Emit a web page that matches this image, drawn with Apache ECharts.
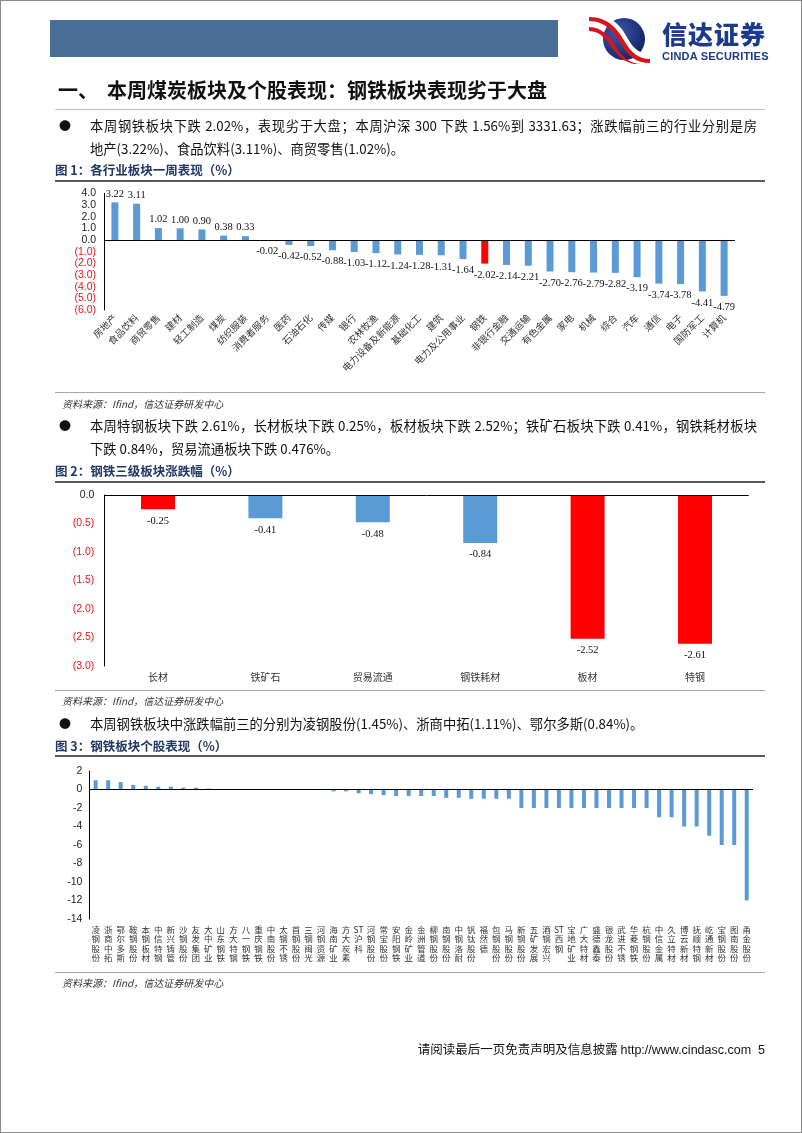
<!DOCTYPE html>
<html><head><meta charset="utf-8">
<script src="https://cdn.jsdelivr.net/npm/echarts@6/dist/echarts.min.js"></script>
<style>
html,body{margin:0;padding:0;background:#fff;}
#page{position:relative;width:802px;height:1133px;overflow:hidden;background:#fff;font-family:"Noto Sans CJK SC","Noto Sans",sans-serif;color:#111;}
#chart{position:absolute;left:0;top:0;width:802px;height:1133px;}
.t{position:absolute;white-space:nowrap;z-index:2;}
.hl{position:absolute;z-index:2;}
.p{font-size:13.3px;line-height:16px;color:#111;}
.fig{font-size:12.5px;font-weight:bold;color:#1F3864;}
.src{font-size:10px;font-style:italic;color:#333;}
</style></head><body>
<div id="page">
<div id="chart"></div>
<div class="hl" style="left:0;top:0;width:800px;height:1131px;border:1px solid #8a8a8a;z-index:3;pointer-events:none"></div>
<div class="hl" style="left:50px;top:20px;width:508px;height:37px;background:#4A6E96"></div>
<svg class="hl" style="left:588px;top:14px" width="66" height="50" viewBox="0 0 66 50">
<defs><radialGradient id="g" cx="0.35" cy="0.35" r="0.75"><stop offset="0" stop-color="#3a58b0"/><stop offset="1" stop-color="#101f60"/></radialGradient></defs>
<circle cx="36" cy="25" r="21" fill="url(#g)"/>
<path d="M2 4 C18 4 28 16 35 28 C42 40 50 46 62 46 L62 40 C52 40 45 34 40 25 C33 12 24 0 2 0 Z" fill="#fff"/>
<path d="M1 7 C17 7 26 18 33 30 C40 42 48 49 62 49 L62 45 C50 45 43 38 37 28 C30 16 21 3 1 3 Z" fill="#D8131C"/>
<path d="M1 13 C13 13 22 22 28 33 C34 43 42 50 54 50 L46 50 C36 48 30 42 25 35 C19 26 12 17 1 17 Z" fill="#D8131C"/>
</svg>
<div class="t" style="left:662px;top:17px;font-size:25px;line-height:32px;font-weight:900;color:#1B3A8C;letter-spacing:1px">信达证券</div>
<div class="t" style="left:662px;top:50px;font-family:'Liberation Sans',Arial;font-size:11px;line-height:12px;font-weight:bold;color:#1B3A8C;letter-spacing:0.2px">CINDA SECURITIES</div>
<div class="t" style="left:58px;top:75px;font-size:20px;font-weight:bold;color:#111">一、&nbsp;&nbsp;本周煤炭板块及个股表现：钢铁板块表现劣于大盘</div>
<div class="hl" style="left:55px;top:109px;width:710px;height:1px;background:#BFBFBF"></div>

<div class="t p" style="left:59px;top:118px;font-size:12px">●</div>
<div class="t p" style="left:90px;top:118px;width:667px;text-align:justify;text-align-last:justify">本周钢铁板块下跌 2.02%，表现劣于大盘；本周沪深 300 下跌 1.56%到 3331.63；涨跌幅前三的行业分别是房</div>
<div class="t p" style="left:90px;top:141px">地产(3.22%)、食品饮料(3.11%)、商贸零售(1.02%)。</div>
<div class="t fig" style="left:55px;top:160px">图 1：各行业板块一周表现（%）</div>
<div class="hl" style="left:55px;top:180px;width:710px;height:1.5px;background:#595959"></div>
<div class="hl" style="left:55px;top:392px;width:710px;height:1px;background:#A6A6A6"></div>
<div class="t src" style="left:62px;top:396px">资料来源：Ifind，信达证券研发中心</div>

<div class="t p" style="left:59px;top:418px;font-size:12px">●</div>
<div class="t p" style="left:90px;top:418px;width:667px;text-align:justify;text-align-last:justify">本周特钢板块下跌 2.61%，长材板块下跌 0.25%，板材板块下跌 2.52%；铁矿石板块下跌 0.41%，钢铁耗材板块</div>
<div class="t p" style="left:90px;top:441px">下跌 0.84%，贸易流通板块下跌 0.476%。</div>
<div class="t fig" style="left:55px;top:461px">图 2：钢铁三级板块涨跌幅（%）</div>
<div class="hl" style="left:55px;top:481px;width:710px;height:1.5px;background:#595959"></div>
<div class="hl" style="left:55px;top:690px;width:710px;height:1px;background:#A6A6A6"></div>
<div class="t src" style="left:62px;top:693px">资料来源：Ifind，信达证券研发中心</div>

<div class="t p" style="left:59px;top:716px;font-size:12px">●</div>
<div class="t p" style="left:90px;top:716px">本周钢铁板块中涨跌幅前三的分别为凌钢股份(1.45%)、浙商中拓(1.11%)、鄂尔多斯(0.84%)。</div>
<div class="t fig" style="left:55px;top:736px">图 3：钢铁板块个股表现（%）</div>
<div class="hl" style="left:55px;top:755px;width:710px;height:1.5px;background:#595959"></div>
<div class="hl" style="left:55px;top:972px;width:710px;height:1px;background:#A6A6A6"></div>
<div class="t src" style="left:62px;top:975px">资料来源：Ifind，信达证券研发中心</div>

<div class="t" style="right:37px;top:1039px;font-size:12.5px;color:#111">请阅读最后一页免责声明及信息披露 <span style="font-family:'Liberation Sans',Arial">http://www.cindasc.com&nbsp;&nbsp;5</span></div>
</div>
<script>
// ---- Figure 1: industry weekly performance ----
const indCategories = ['房地产','食品饮料','商贸零售','建材','轻工制造','煤炭','纺织服装','消费者服务','医药','石油石化','传媒','银行','农林牧渔','电力设备及新能源','基础化工','建筑','电力及公用事业','钢铁','非银行金融','交通运输','有色金属','家电','机械','综合','汽车','通信','电子','国防军工','计算机'];
const indValues = [3.22,3.11,1.02,1.00,0.90,0.38,0.33,-0.02,-0.42,-0.52,-0.88,-1.03,-1.12,-1.24,-1.28,-1.31,-1.64,-2.02,-2.14,-2.21,-2.70,-2.76,-2.79,-2.82,-3.19,-3.74,-3.78,-4.41,-4.79];
const indHighlight = ['钢铁'];
const indTicks = {min:-6, max:4, interval:1};

// ---- Figure 2: steel sub-sector ----
const subCategories = ['长材','铁矿石','贸易流通','钢铁耗材','板材','特钢'];
const subValues = [-0.25,-0.41,-0.48,-0.84,-2.52,-2.61];
const subHighlight = ['长材','板材','特钢'];
const subTicks = {min:-3, max:0, interval:0.5};

// ---- Figure 3: individual stocks ----
const stockCategories = ['凌钢股份','浙商中拓','鄂尔多斯','鞍钢股份','本钢板材','中信特钢','新兴铸管','沙钢股份','友发集团','大中矿业','山东钢铁','方大特钢','八一钢铁','重庆钢铁','中南股份','太钢不锈','首钢股份','三钢闽光','河钢资源','海南矿业','方大炭素','ST沪科','河钢股份','常宝股份','安阳钢铁','金岭矿业','金洲管道','柳钢股份','南钢股份','中钢洛耐','钒钛股份','福然德','包钢股份','马钢股份','新钢股份','五矿发展','酒钢宏兴','ST西钢','宝地矿业','广大特材','盛德鑫泰','银龙股份','武进不锈','华菱钢铁','杭钢股份','中信金属','久立特材','博云新材','抚顺特钢','屹通新材','宝钢股份','图南股份','甬金股份'];
const stockValues = [1.0,1.0,0.8,0.5,0.4,0.3,0.3,0.2,0.2,0.1,0,0,0,0,0,0,0,0,0,-0.2,-0.2,-0.4,-0.5,-0.6,-0.7,-0.7,-0.7,-0.7,-0.9,-0.9,-1.0,-1.0,-1.0,-1.0,-2,-2,-2,-2,-2,-2,-2,-2,-2,-2,-2,-3,-3,-4,-4,-5,-6,-6,-12];
const stockTicks = {min:-14, max:2, interval:2};

const BLUE = '#5B9BD5', RED = '#FF0000';
const numFont = "'Liberation Sans', Arial, sans-serif";
const serif = "'Liberation Serif', 'Times New Roman', serif";
const cjk = "'Noto Sans CJK SC', sans-serif";

function parenFmt(v){
  if (v < 0) return '{r|(' + Math.abs(v).toFixed(1) + ')}';
  return '{b|' + v.toFixed(1) + '}';
}
const parenRich = {r:{color:'#E8141B',fontFamily:numFont,fontSize:10.5}, b:{color:'#222',fontFamily:numFont,fontSize:10.5}};
const zeroLine = {symbol:'none',silent:true,label:{show:false},lineStyle:{color:'#000',width:1,type:'solid'},data:[{yAxis:0}]};

const chart = echarts.init(document.getElementById('chart'), null, {renderer:'canvas'});
chart.setOption({
  animation:false,
  backgroundColor:'transparent',
  grid:[
    {left:104, width:631, top:193.3, height:116.7, containLabel:false},
    {left:104.3, width:644.4, top:495, height:171, containLabel:false},
    {left:89.4, width:663.6, top:771, height:148, containLabel:false}
  ],
  xAxis:[
    {gridIndex:0, type:'category', data:indCategories,
      axisLine:{show:false}, axisTick:{show:false},
      axisLabel:{rotate:45, fontSize:9.5, fontFamily:cjk, color:'#333', margin:6, interval:0}},
    {gridIndex:1, type:'category', data:subCategories,
      axisLine:{show:false}, axisTick:{show:false},
      axisLabel:{fontSize:10, fontFamily:cjk, color:'#333', margin:6, interval:0}},
    {gridIndex:2, type:'category', data:stockCategories,
      axisLine:{show:false}, axisTick:{show:false},
      axisLabel:{fontSize:8.5, lineHeight:9.4, fontFamily:cjk, color:'#333', margin:6, interval:0,
        formatter:function(s){ return s.match(/[A-Za-z]+|./g).join('\n'); }}}
  ],
  yAxis:[
    {gridIndex:0, type:'value', min:indTicks.min, max:indTicks.max, interval:indTicks.interval,
      splitLine:{show:false}, axisTick:{show:false},
      axisLine:{show:true, lineStyle:{color:'#000',width:1}},
      axisLabel:{formatter:parenFmt, rich:parenRich, margin:8}},
    {gridIndex:1, type:'value', min:subTicks.min, max:subTicks.max, interval:subTicks.interval,
      splitLine:{show:false}, axisTick:{show:false},
      axisLine:{show:true, lineStyle:{color:'#000',width:1}},
      axisLabel:{formatter:parenFmt, rich:parenRich, margin:10}},
    {gridIndex:2, type:'value', min:stockTicks.min, max:stockTicks.max, interval:stockTicks.interval,
      splitLine:{show:false}, axisTick:{show:false},
      axisLine:{show:true, lineStyle:{color:'#000',width:1}},
      axisLabel:{fontFamily:numFont, fontSize:10.5, color:'#222', margin:7}}
  ],
  series:[
    {type:'bar', xAxisIndex:0, yAxisIndex:0, barWidth:7,
      data:indValues.map(function(v,i){
        return {value:v, itemStyle:{color: indHighlight.indexOf(indCategories[i])>=0 ? RED : BLUE},
          label:{position: v>=0 ? 'top' : 'bottom', distance: v>=0 ? 3 : 6}};
      }),
      label:{show:true, formatter:function(p){return p.value.toFixed(2);}, fontFamily:serif, fontSize:10.5, color:'#111'},
      markLine:zeroLine},
    {type:'bar', xAxisIndex:1, yAxisIndex:1, barWidth:34,
      data:subValues.map(function(v,i){
        return {value:v, itemStyle:{color: subHighlight.indexOf(subCategories[i])>=0 ? RED : BLUE}};
      }),
      label:{show:true, position:'bottom', distance:6, formatter:function(p){return p.value.toFixed(2);}, fontFamily:serif, fontSize:10.5, color:'#111'},
      markLine:zeroLine},
    {type:'bar', xAxisIndex:2, yAxisIndex:2, barWidth:4,
      data:stockValues, itemStyle:{color:BLUE},
      markLine:zeroLine}
  ]
});
</script>
</body></html>
